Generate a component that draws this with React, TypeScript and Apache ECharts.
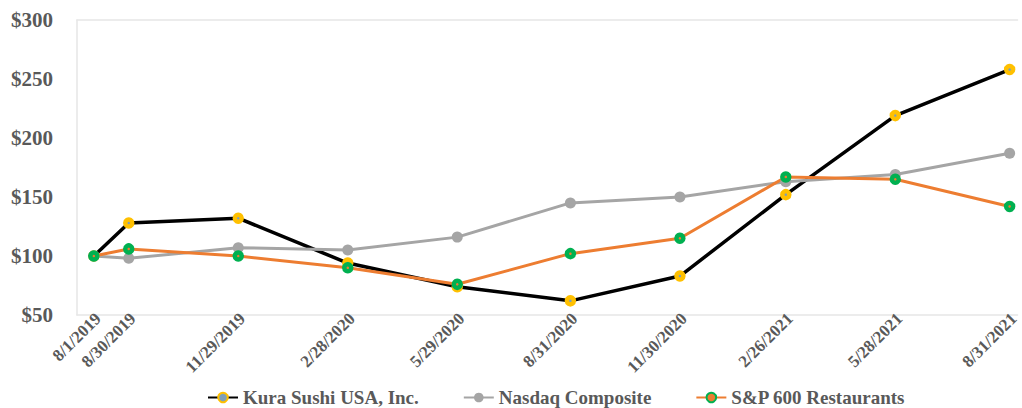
import React, { useEffect, useRef } from "react";
import * as echarts from "echarts";

const dateLabels = [
  "8/1/2019", "8/30/2019", "11/29/2019", "2/28/2020", "5/29/2020",
  "8/31/2020", "11/30/2020", "2/26/2021", "5/28/2021", "8/31/2021",
];
const kuraValues = [100, 128, 132, 94, 74, 62, 83, 152, 219, 258];
const nasdaqValues = [100, 98, 107, 105, 116, 145, 150, 163, 169, 187];
const spValues = [100, 106, 100, 90, 76, 102, 115, 167, 165, 142];
const yTicks = [50, 100, 150, 200, 250, 300];

const toTs = (s: string) => {
  const [m, d, y] = s.split("/").map(Number);
  return new Date(y, m - 1, d).getTime();
};
const fmt = (v: number) => {
  const d = new Date(v);
  return `${d.getMonth() + 1}/${d.getDate()}/${d.getFullYear()}`;
};

export default function App() {
  const ref = useRef<HTMLDivElement>(null);
  useEffect(() => {
    document.body.style.margin = "0";
    const chart = echarts.init(ref.current!, null, { renderer: "svg" });
    const ts = dateLabels.map(toTs);
    const xMin = new Date(2019, 6, 18).getTime();
    const xMax = new Date(2021, 8, 6, 14).getTime();
    const font = "'Liberation Serif', 'Times New Roman', serif";
    const mk = (vals: number[]) => vals.map((v, i) => [ts[i], v]);
    chart.setOption({
      animation: false,
      textStyle: { fontFamily: font },
      grid: { left: 77, right: 0, top: 20, bottom: 93, containLabel: false },
      legend: {
        top: 388,
        left: 207,
        padding: 0,
        itemWidth: 30,
        itemHeight: 12,
        itemGap: 44,
        textStyle: { fontFamily: font, fontSize: 19, fontWeight: "bold", color: "#595959", lineHeight: 18 },
        data: ["Kura Sushi USA, Inc.", "Nasdaq Composite", "S&P 600 Restaurants"],
      },
      xAxis: [
        {
          type: "value",
          min: xMin,
          max: xMax,
          axisLine: { show: true, lineStyle: { color: "#e6e6e6", width: 1.5 } },
          axisTick: { show: false },
          splitLine: { show: false },
          axisLabel: {
            customValues: ts,
            formatter: (v: number) => fmt(v),
            rotate: 45,
            margin: 5,
            padding: [0, -6, 0, 0],
            fontFamily: font,
            fontSize: 17,
            fontWeight: "bold",
            color: "#595959",
            hideOverlap: false,
          },
        },
        {
          type: "value",
          position: "top",
          min: xMin,
          max: xMax,
          axisLine: { show: true, lineStyle: { color: "#e6e6e6", width: 1.5 } },
          axisTick: { show: false },
          axisLabel: { show: false },
          splitLine: { show: false },
        },
      ],
      yAxis: {
        type: "value",
        min: yTicks[0],
        max: yTicks[yTicks.length - 1],
        interval: 50,
        axisLine: { show: true, lineStyle: { color: "#e6e6e6", width: 1.5 } },
        axisTick: { show: false },
        splitLine: { show: false },
        axisLabel: {
          formatter: (v: number) => `$${v}`,
          margin: 24,
          fontFamily: font,
          fontSize: 21,
          fontWeight: "bold",
          color: "#595959",
        },
      },
      series: [
        {
          name: "Kura Sushi USA, Inc.",
          type: "line",
          data: mk(kuraValues),
          symbol: "circle",
          symbolSize: 7,
          lineStyle: { color: "#000000", width: 3.5 },
          itemStyle: { color: "#7f9fb8", borderColor: "#ffc000", borderWidth: 4.5 },
        },
        {
          name: "Nasdaq Composite",
          type: "line",
          data: mk(nasdaqValues),
          symbol: "circle",
          symbolSize: 11,
          lineStyle: { color: "#a5a5a5", width: 3 },
          itemStyle: { color: "#a5a5a5" },
        },
        {
          name: "S&P 600 Restaurants",
          type: "line",
          data: mk(spValues),
          symbol: "circle",
          symbolSize: 7,
          lineStyle: { color: "#ed7d31", width: 3 },
          itemStyle: { color: "#ed7d31", borderColor: "#00b050", borderWidth: 4.5 },
        },
      ],
    });
    return () => chart.dispose();
  }, []);
  return <div ref={ref} style={{ width: 1022, height: 408 }} />;
}
